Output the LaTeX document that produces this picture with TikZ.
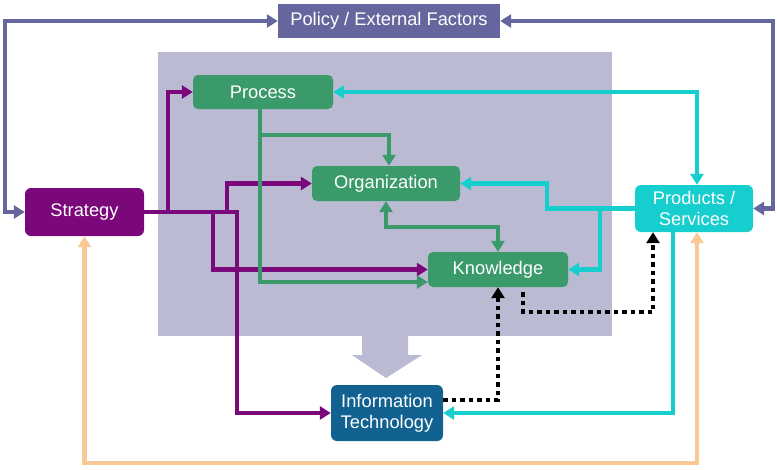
\documentclass[tikz,border=0pt]{standalone}
\usepackage{fontspec}
\setmainfont{Liberation Sans}
\usetikzlibrary{arrows.meta}

\definecolor{policyblue}{RGB}{102,102,158}
\definecolor{panelgray}{RGB}{186,186,210}
\definecolor{procgreen}{RGB}{58,154,106}
\definecolor{stratpurple}{RGB}{122,8,122}
\definecolor{prodcyan}{RGB}{22,206,206}
\definecolor{itblue}{RGB}{18,98,145}
\definecolor{peach}{RGB}{250,201,150}

\begin{document}
\begin{tikzpicture}[x=1pt, y=-1pt, >={Triangle[length=11pt,width=13pt]},
	box/.style={rectangle, rounded corners=5pt, text=white, align=center, inner sep=2pt, font=\fontsize{18.3}{21}\selectfont},
	link/.style={line width=4.5pt},
	dotlink/.style={line width=4.5pt, black, dash pattern=on 4.5pt off 4pt}]
		\useasboundingbox (0,0) rectangle (777,469);
		
		% panel and its arrow
		\fill[panelgray] (158,52) rectangle (612,336);
		\fill[panelgray] (362,336) -- (408,336) -- (408,355) -- (422,355) -- (386,378) -- (352,355) -- (362,355) -- cycle;
		
		\node[box, fill=policyblue, rounded corners=0pt, minimum width=222pt, minimum height=34pt] (policy) at (389,21) {Policy / External Factors};
		\node[box, fill=procgreen, minimum width=140pt, minimum height=34pt] (process) at (263,92) {Process};
		\node[box, fill=procgreen, minimum width=148pt, minimum height=35pt] (organization) at (386,183.5) {Organization};
		\node[box, fill=procgreen, minimum width=140pt, minimum height=35pt] (knowledge) at (498,269.5) {Knowledge};
		\node[box, fill=stratpurple, rounded corners=6pt, minimum width=119pt, minimum height=48pt] (strategy) at (84.5,212) {Strategy};
		\node[box, fill=prodcyan, rounded corners=6pt, minimum width=118pt, minimum height=47pt] (products) at (694,208.5) {Products /\\Services};
		\node[box, fill=itblue, rounded corners=6pt, minimum width=112pt, minimum height=56pt] (it) at (387,413) {Information\\Technology};
		
		% Arrows
		\draw[link, policyblue, <->] (policy.west) -| ([xshift=-20pt]strategy.west) -- (strategy.west);
		\draw[link, policyblue, <->] (policy.east) -| ([xshift=20pt]products.east) -- (products.east);
		\draw[link, peach, <->] (strategy.south) |- ([xshift=3pt,yshift=-231pt]products.south) -- ([xshift=3pt]products.south);
		
		\draw[link, stratpurple, ->] (strategy.east) -| ([xshift=-25pt]process.west) -- (process.west);
		\draw[link, stratpurple, ->] (strategy.east) -| ([xshift=-85pt]organization.west) -- (organization.west);
		\draw[link, stratpurple, ->] (strategy.east) -| ([xshift=-215pt]knowledge.west) -- (knowledge.west);
		\draw[link, stratpurple, ->] (strategy.east) -| ([xshift=-94pt]it.west) -- (it.west);
		
		\draw[link, procgreen, ->] ([xshift=-3pt]process.south) |- ([yshift=-12.5pt]knowledge.west);
		\draw[link, procgreen, ->] ([xshift=-3pt,yshift=-26pt]process.south) -| ([xshift=3pt]organization.north);
		\draw[link, procgreen, <->] (organization.south) |- ([yshift=25pt]knowledge.north) -- (knowledge.north);
		
		\draw[link, prodcyan, <->] (process.east) -| ([xshift=3pt]products.north);
		\draw[link, prodcyan, ->] (products.west) -| ([xshift=87pt]organization.east) -- (organization.east);
		\draw[link, prodcyan, ->] ([xshift=-35pt]products.west) |- (knowledge.east);
		\draw[link, prodcyan, ->] ([xshift=-21pt]products.south) |- (it.east);
		
		\draw[dotlink, ->] ([yshift=13pt]it.east) -| (knowledge.south);
		\draw[dotlink, ->] ([xshift=25pt,yshift=-5pt]knowledge.south) |- ([xshift=-41pt,yshift=-80pt]products.south) -- ([xshift=-41pt]products.south);
		
	\end{tikzpicture}
\end{document}
